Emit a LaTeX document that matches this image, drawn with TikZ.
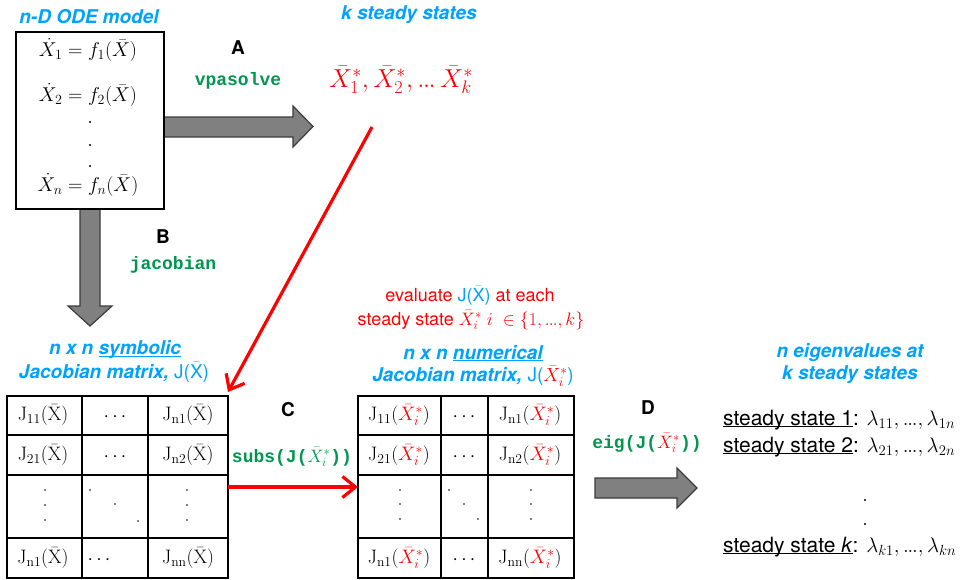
\RequirePackage{fix-cm}
\documentclass[tikz,border=0pt]{standalone}
\usepackage{fontspec}
\setsansfont{TeX Gyre Heros}
\setmonofont{Liberation Mono}
\usetikzlibrary{arrows.meta,calc}
\definecolor{tblue}{RGB}{0,162,255}
\definecolor{tgreen}{RGB}{0,150,80}
\definecolor{tred}{RGB}{255,0,0}
\definecolor{agray}{RGB}{128,128,128}
\definecolor{aedge}{RGB}{60,60,60}
\newcommand{\myfs}[1]{\fontsize{#1}{#1}\selectfont}
\newcommand{\Xsi}{\bar{X}^{*}_{i}}
\newcommand{\tdots}{{.}\mkern-1mu{.}\mkern-1mu{.}}
\newcommand{\Jsym}{{\mdseries\upshape J($\bar{\mbox{X}}$)}}
\newcommand{\myul}[1]{\setbox0\hbox{#1}\rlap{\rule[-0.11em]{\wd0}{0.06em}}\box0}
\tikzset{
  ttl/.style={text=tblue, font=\sffamily\bfseries\itshape\myfs{19}, align=center, inner sep=0},
  letter/.style={font=\sffamily\bfseries\myfs{19}, inner sep=0},
  code/.style={text=tgreen, font=\ttfamily\bfseries\myfs{18}, inner sep=0},
  blockarrow/.style={fill=agray, draw=aedge, line width=1.2pt, line join=miter},
  redarrow/.style={draw=tred, line width=3.2pt, -{Straight Barb[length=13pt,width=21pt]}},
  frame/.style={draw, line width=1.2pt, inner sep=0, outer sep=0},
  cell/.style={font=\myfs{19.5}, inner sep=0},
  eqn/.style={font=\myfs{20}, inner sep=0},
  redtxt/.style={text=tred, font=\sffamily\myfs{18}, inner sep=0},
  eig/.style={font=\sffamily\myfs{21}, inner sep=0, anchor=base west}
}
\begin{document}
\begin{tikzpicture}[x=1pt,y=-1pt]
\useasboundingbox (0,0) rectangle (966,579);

% ---- block arrows (drawn first) ----
\coordinate (atip) at (313,126.5);
\coordinate (btip) at (90,326);
\coordinate (dstart) at (595,488);
\coordinate (dtip) at (697,488);
\draw[blockarrow] (164,117) -- (293,117) -- (293,106) -- (atip) -- (293,147) -- (293,137) -- (164,137);
\draw[blockarrow] (80,209) -- (80,306) -- (68,306) -- (btip) -- (112,306) -- (100,306) -- (100,209);
\draw[blockarrow] (dstart) ++(0,-10) -- (677,478) -- (677,468) -- (dtip) -- (677,508) -- (677,498) -- (595,498) -- cycle;

% ---- ODE model ----
\node[ttl] (odetitle) at (89,17) {n-D ODE model};
\node[frame, fill=white, minimum width=148, minimum height=177] (ode) at (90,120.5) {};
\node[eqn] (eq1) at (88,50) {$\dot{X}_1 = f_1(\bar{X})$};
\node[eqn] (eq2) at (88,95) {$\dot{X}_2 = f_2(\bar{X})$};
\node[eqn] (eqn) at (88,185) {$\dot{X}_n = f_n(\bar{X})$};
\fill (90,122) circle (1.1);
\fill (90,145) circle (1.1);
\fill (90,166) circle (1.1);

% ---- A ----
\node[letter] (la) at (238,48) {A};
\node[code] (ca) at (238,81) {vpasolve};

% ---- steady states ----
\node[ttl] (sstitle) at (409,15) {k steady states};
\node[text=tred, font=\myfs{26}, inner sep=0] (ss) at (401,80) {$\bar{X}^{*}_{1}, \bar{X}^{*}_{2}, \tdots\, \bar{X}^{*}_{k}$};
\coordinate (ssout) at (372,127);

% ---- B ----
\node[letter] (lb) at (163,237) {B};
\node[code] (cb) at (173,265) {jacobian};

% ---- symbolic matrix ----
\node[ttl] (m1t1) at (115,350) {n x n \myul{symbolic}};
\node[ttl] (m1t2) at (114,372) {Jacobian matrix, \Jsym};
\node[frame, minimum width=221, minimum height=182] (m1) at (117.5,487) {};
\draw[line width=1.2pt] (82,396) -- (82,578) (148,396) -- (148,578);
\draw[line width=1.2pt] (7,435) -- (228,435) (7,475) -- (228,475) (7,538) -- (228,538);
\node[cell] (s11) at (43,415) {$\mathrm{J}_{11}(\bar{\mathrm{X}})$};
\node[cell] (s12) at (115,417) {$\cdots$};
\node[cell] (s13) at (188,415) {$\mathrm{J}_{\mathrm{n}1}(\bar{\mathrm{X}})$};
\node[cell] (s21) at (43,455) {$\mathrm{J}_{21}(\bar{\mathrm{X}})$};
\node[cell] (s22) at (115,457) {$\cdots$};
\node[cell] (s23) at (188,455) {$\mathrm{J}_{\mathrm{n}2}(\bar{\mathrm{X}})$};
\node[cell] (s41) at (43,558) {$\mathrm{J}_{\mathrm{n}1}(\bar{\mathrm{X}})$};
\node[cell] (s42) at (99,560) {$\cdots$};
\node[cell] (s43) at (188,558) {$\mathrm{J}_{\mathrm{nn}}(\bar{\mathrm{X}})$};
\foreach \yy in {490,505,520} {\fill (45,\yy) circle (0.9); \fill (187,\yy) circle (0.9);}
\fill (90,490) circle (0.9); \fill (115,504) circle (0.9); \fill (138,521) circle (0.9);

% ---- C ----
\node[letter] (lc) at (288,410) {C};
\node[code] (cc) at (292,457) {subs(J($\Xsi$))};

% ---- evaluate label ----
\node[redtxt] (ev1) at (470,296) {evaluate \textcolor{tblue}{J($\bar{\mbox{X}}$)} at each};
\node[redtxt] (ev2) at (471,320) {steady state $\Xsi\ i\ \in \{1, \tdots, k\}$};

% ---- numerical matrix ----
\node[ttl] (m2t1) at (473,353) {n x n \myul{numerical}};
\node[ttl] (m2t2) at (473,376) {Jacobian matrix, {\mdseries\upshape J(\textcolor{tred}{$\Xsi$})}};
\node[frame, minimum width=216, minimum height=182] (m2) at (466,487) {};
\draw[line width=1.2pt] (441,396) -- (441,578) (488,396) -- (488,578);
\draw[line width=1.2pt] (358,435) -- (574,435) (358,475) -- (574,475) (358,538) -- (574,538);
\node[cell] (n11) at (399,415) {$\mathrm{J}_{11}(\textcolor{tred}{\Xsi})$};
\node[cell] (n12) at (464,417) {$\cdots$};
\node[cell] (n13) at (530,415) {$\mathrm{J}_{\mathrm{n}1}(\textcolor{tred}{\Xsi})$};
\node[cell] (n21) at (399,455) {$\mathrm{J}_{21}(\textcolor{tred}{\Xsi})$};
\node[cell] (n22) at (464,457) {$\cdots$};
\node[cell] (n23) at (530,455) {$\mathrm{J}_{\mathrm{n}2}(\textcolor{tred}{\Xsi})$};
\node[cell] (n41) at (399,558) {$\mathrm{J}_{\mathrm{n}1}(\textcolor{tred}{\Xsi})$};
\node[cell] (n42) at (464,560) {$\cdots$};
\node[cell] (n43) at (530,558) {$\mathrm{J}_{\mathrm{nn}}(\textcolor{tred}{\Xsi})$};
\foreach \yy in {490,504,519} {\fill (400,\yy) circle (0.9); \fill (531,\yy) circle (0.9);}
\fill (449,490) circle (0.9); \fill (464,504) circle (0.9); \fill (478,519) circle (0.9);

% ---- D ----
\node[letter] (ld) at (648,408) {D};
\node[code] (cd) at (647,443) {eig(J(\textcolor{tred}{$\Xsi$}))};

% ---- eigenvalues ----
\node[ttl] (et1) at (850,353) {n eigenvalues at};
\node[ttl] (et2) at (850,375) {k steady states};
\node[eig] (e1) at (723,425) {\myul{steady state 1}: $\lambda_{11}, \tdots, \lambda_{1n}$};
\node[eig] (e2) at (723,452) {\myul{steady state 2}: $\lambda_{21}, \tdots, \lambda_{2n}$};
\node[eig] (ek) at (723,552) {\myul{steady state \textit{k}}: $\lambda_{k1}, \tdots, \lambda_{kn}$};
\fill (865,500) circle (1.1);
\fill (865,524) circle (1.1);

% ---- red connectors ----
\draw[redarrow] (ssout) -- ($(m1.north east)+(0,-4)$);
\draw[redarrow] (m1.east) -- (m2.west);
\end{tikzpicture}
\end{document}
